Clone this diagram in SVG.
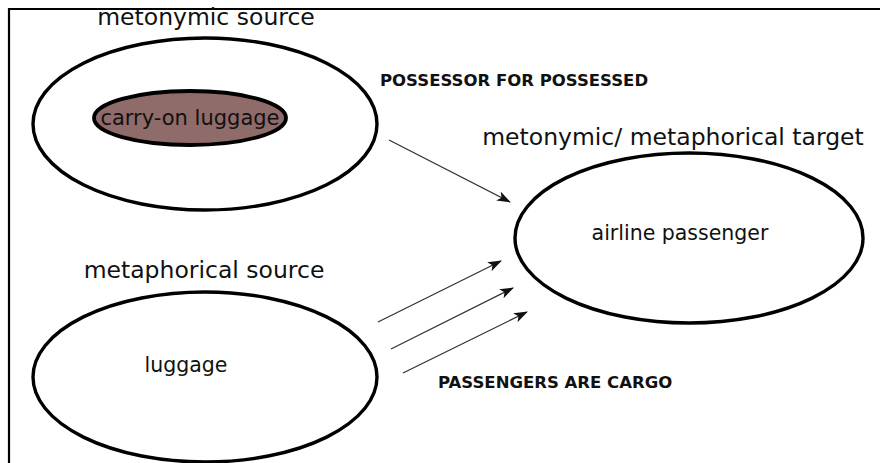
<svg xmlns="http://www.w3.org/2000/svg" width="883" height="463" viewBox="0 0 883 463">
  <style>
    .frame { fill: none; stroke: #000; stroke-width: 2.2; }
    .domain { fill: #fff; stroke: #000; stroke-width: 3.4; }
    .sub { fill: #8f6b6a; stroke: #000; stroke-width: 3.8; }
    .label { font-family: "DejaVu Sans", Verdana, sans-serif; fill: #111; }
    .big { font-size: 23.5px; }
    .mid { font-size: 20.5px; }
    .bold { font-family: "DejaVu Sans", Verdana, sans-serif; font-weight: bold; font-size: 16.5px; fill: #111; }
    .link { fill: none; stroke: #333; stroke-width: 1.3; marker-end: url(#head); }
  </style>
  <defs>
    <marker id="head" viewBox="0 0 14 10" refX="13" refY="5" markerWidth="14" markerHeight="10" markerUnits="userSpaceOnUse" orient="auto">
      <path d="M0,0 L14,5 L0,10 L3.5,5 Z" fill="#111"/>
    </marker>
  </defs>

  <rect width="883" height="463" fill="#fff"/>
  <!-- partial frame: top and left edges -->
  <path class="frame" d="M9,463 L9,9 L880,9"/>

  <g id="metonymic-source">
    <ellipse class="domain" cx="205" cy="124" rx="172" ry="86"/>
    <text class="label big" x="206" y="25" text-anchor="middle">metonymic source</text>
  </g>

  <g id="carry-on-luggage">
    <ellipse class="sub" cx="190" cy="118" rx="96" ry="27"/>
    <text class="label" font-size="21" x="190" y="125" text-anchor="middle">carry-on luggage</text>
  </g>

  <g id="metaphorical-source">
    <ellipse class="domain" cx="205" cy="377" rx="172" ry="85"/>
    <text class="label big" x="204" y="278" text-anchor="middle">metaphorical source</text>
    <text class="label mid" x="186" y="372" text-anchor="middle">luggage</text>
  </g>

  <g id="target">
    <ellipse class="domain" cx="689" cy="238" rx="174" ry="85"/>
    <text class="label big" x="673" y="145" text-anchor="middle">metonymic/ metaphorical target</text>
    <text class="label mid" x="680" y="240" text-anchor="middle">airline passenger</text>
  </g>

  <g id="connectors">
    <line class="link" x1="389" y1="140" x2="510" y2="202"/>
    <line class="link" x1="378" y1="322" x2="501" y2="261"/>
    <line class="link" x1="391" y1="349" x2="513" y2="288"/>
    <line class="link" x1="403" y1="373" x2="527" y2="312"/>
    <text class="bold" x="380" y="86">POSSESSOR FOR POSSESSED</text>
    <text class="bold" x="438" y="388">PASSENGERS ARE CARGO</text>
  </g>
</svg>
